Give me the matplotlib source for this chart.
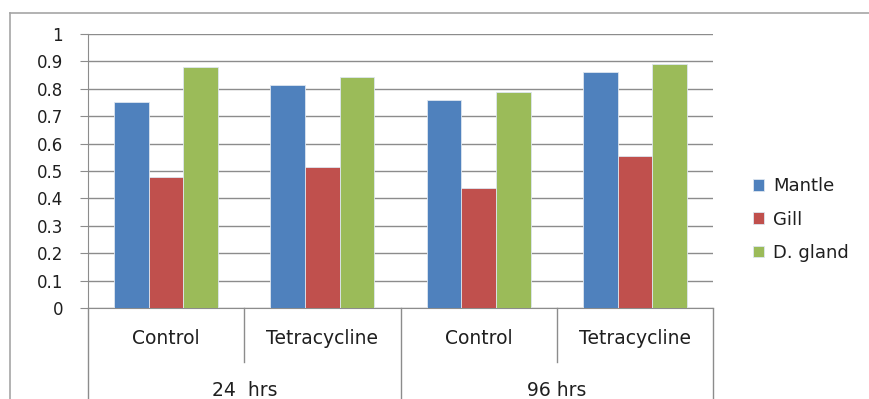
import numpy as np
import matplotlib.pyplot as plt
from matplotlib.lines import Line2D
import matplotlib.transforms as mtransforms

plt.rcParams['font.family'] = ['DejaVu Sans']

# Datos
treatments = ["Control", "Tetracycline", "Control", "Tetracycline"]
periods = ["24  hrs", "96 hrs"]
series_names = ["Mantle", "Gill", "D. gland"]
mantle = [0.751, 0.815, 0.759, 0.861]
gill = [0.479, 0.515, 0.438, 0.555]
d_gland = [0.878, 0.843, 0.788, 0.890]

colors = ["#4F81BD", "#C0504D", "#9BBB59"]
grid_col = "#8C8C8C"
txt_col = "#1F1F1F"

fig = plt.figure(figsize=(8.69, 3.99), dpi=100)
ax = fig.add_axes([88/869, 1 - 308/399, (713 - 88)/869, (308 - 34)/399])

# Marco exterior del gráfico (solo arriba e izquierda visibles)
top = 1 - 13/399
left = 10/869
fig.lines.append(Line2D([left, 1.2], [top, top], transform=fig.transFigure,
                        color="#A5A5A5", lw=1.2))
fig.lines.append(Line2D([left, left], [top, -0.2], transform=fig.transFigure,
                        color="#A5A5A5", lw=1.2))

x = np.arange(len(treatments))
w = 2 / 9
for i, (vals, name) in enumerate(zip([mantle, gill, d_gland], series_names)):
    ax.bar(x + (i - 1) * w, vals, width=w, color=colors[i], label=name,
           edgecolor="#DDE6F0", linewidth=0.6, zorder=3)

ax.set_xlim(-0.5, len(treatments) - 0.5)
ax.set_ylim(0, 1)
ax.set_yticks(np.arange(0, 1.01, 0.1))
ax.set_yticklabels(["0"] + ["%.1f" % v for v in np.arange(0.1, 0.95, 0.1)] + ["1"])
ax.yaxis.grid(True, color=grid_col, linewidth=1.0, zorder=0)
ax.tick_params(axis='y', length=6, color=grid_col, labelsize=12, pad=12,
               labelcolor=txt_col)
ax.set_xticks([])

for s in ["top", "right"]:
    ax.spines[s].set_visible(False)
ax.spines["left"].set_color(grid_col)
ax.spines["bottom"].set_color(grid_col)

# Ejes de categorías de dos niveles
trans = mtransforms.blended_transform_factory(ax.transData, ax.transAxes)
ax.plot([-0.5, -0.5], [0, -0.5], transform=trans, color=grid_col, lw=1, clip_on=False)
for b in [0.5, 2.5]:
    ax.plot([b, b], [0, -0.197], transform=trans, color=grid_col, lw=1, clip_on=False)
for b in [1.5, 3.5]:
    ax.plot([b, b], [0, -0.5], transform=trans, color=grid_col, lw=1, clip_on=False)

for xi, t in zip(x, treatments):
    ax.text(xi, -0.113, t, transform=trans, ha="center", va="center",
            fontsize=13.5, color=txt_col)
for j, p in enumerate(periods):
    ax.text(2 * j + 0.5, -0.30, p, transform=trans, ha="center", va="center",
            fontsize=13.5, color=txt_col)

leg = fig.legend(loc="upper left", bbox_to_anchor=(737/869, 1 - 161/399),
                 frameon=False, fontsize=13, handlelength=0.6, handleheight=0.6,
                 labelspacing=0.85, handletextpad=0.5)
for t in leg.get_texts():
    t.set_color(txt_col)

fig.savefig("out.png", dpi=100)
